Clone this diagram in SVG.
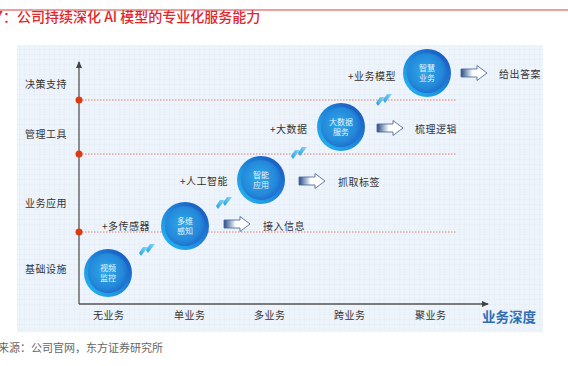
<svg xmlns="http://www.w3.org/2000/svg" width="568" height="366" viewBox="0 0 568 366">
<defs>
<style>
.lbl{font-family:"Noto Sans CJK SC","Noto Sans",sans-serif;font-size:10px;fill:#333;letter-spacing:0.5px;dominant-baseline:central}
.ctext{font-family:"Noto Sans CJK SC","Noto Sans",sans-serif;font-size:8px;fill:#fff;fill-opacity:0.9;text-anchor:middle;dominant-baseline:central}
.dash{stroke:#e0604e;stroke-width:0.8;stroke-dasharray:1.5 1.5;fill:none}
.dot{fill:#dc3b12}
.axis{stroke:#555;stroke-width:1.3;fill:none}
</style>
<pattern id="grid" width="5" height="5" patternUnits="userSpaceOnUse">
<rect width="5" height="5" fill="#eef4fb"/>
<path d="M5 0V5M0 5H5" stroke="#e1e9f4" stroke-width="0.6"/>
</pattern>
<linearGradient id="rim" x1="0" y1="1" x2="1" y2="0">
<stop offset="0" stop-color="#25bdf2"/>
<stop offset="0.5" stop-color="#1e86dc"/>
<stop offset="1" stop-color="#1a4fb8"/>
</linearGradient>
<radialGradient id="core" cx="0.45" cy="0.45" r="0.6">
<stop offset="0" stop-color="#2fa9ea"/>
<stop offset="0.7" stop-color="#2489da"/>
<stop offset="1" stop-color="#1d68c9"/>
</radialGradient>
<linearGradient id="arr" x1="0" y1="0" x2="1" y2="0">
<stop offset="0" stop-color="#2d4c7e"/>
<stop offset="0.15" stop-color="#6c88b2"/>
<stop offset="0.45" stop-color="#ffffff"/>
<stop offset="1" stop-color="#ffffff"/>
</linearGradient>
<linearGradient id="chev" x1="0" y1="1" x2="1" y2="0">
<stop offset="0" stop-color="#1c9ee2"/>
<stop offset="1" stop-color="#8ad9f8"/>
</linearGradient>
<path id="barrow" d="M0,-4H16V-7.5L26,0L16,7.5V4H0Z" fill="url(#arr)" stroke="#4d6e9e" stroke-width="0.9"/>
<g id="chevs">
<path d="M3,0H8L1,9L-1,6Z" fill="url(#chev)"/>
<path d="M10,-3H15L8,6L6,3Z" fill="url(#chev)"/>
</g>
<marker id="ah" markerWidth="8" markerHeight="8" refX="6" refY="4" orient="auto" markerUnits="userSpaceOnUse">
<path d="M0,1L7,4L0,7Z" fill="#444"/>
</marker>
</defs>
<rect width="568" height="366" fill="#fff"/>
<line x1="0" y1="10" x2="568" y2="10" stroke="#e03a3a" stroke-width="1"/>
<text x="-5" y="22" font-family="'Noto Sans CJK SC','Noto Sans',sans-serif" font-size="14" font-weight="500" fill="#e0262b">7：公司持续深化 AI 模型的专业化服务能力</text>
<rect x="17" y="45" width="526" height="287" fill="url(#grid)"/>

<g id="connectors">
<line class="axis" x1="79" y1="304" x2="79" y2="62" marker-end="url(#ah)"/>
<line class="axis" x1="79" y1="304" x2="488" y2="304" marker-end="url(#ah)"/>
<line class="dash" x1="79" y1="100" x2="457" y2="100"/>
<line class="dash" x1="79" y1="154" x2="457" y2="154"/>
<line class="dash" x1="79" y1="232" x2="457" y2="232"/>
<circle class="dot" cx="79" cy="100" r="3.5"/>
<circle class="dot" cx="79" cy="154" r="3.5"/>
<circle class="dot" cx="79" cy="232" r="3.5"/>
<use href="#chevs" transform="translate(140,247)"/>
<use href="#chevs" transform="translate(217,200)"/>
<use href="#chevs" transform="translate(292,150)"/>
<use href="#chevs" transform="translate(377,97)"/>
<use href="#barrow" transform="translate(224,224)"/>
<use href="#barrow" transform="translate(299,181)"/>
<use href="#barrow" transform="translate(377,128)"/>
<use href="#barrow" transform="translate(461,73)"/>
</g>

<g id="y-labels">
<text class="lbl" x="25" y="83">决策支持</text>
<text class="lbl" x="25" y="133">管理工具</text>
<text class="lbl" x="25" y="202">业务应用</text>
<text class="lbl" x="25" y="268">基础设施</text>
</g>
<g id="x-labels">
<text class="lbl" x="93" y="314">无业务</text>
<text class="lbl" x="174" y="314">单业务</text>
<text class="lbl" x="254" y="314">多业务</text>
<text class="lbl" x="334" y="314">跨业务</text>
<text class="lbl" x="415" y="314">聚业务</text>
<text x="482" y="322" font-family="'Noto Sans CJK SC','Noto Sans',sans-serif" font-size="13.5" font-weight="bold" fill="#2f6eb5">业务深度</text>
</g>

<g id="node-shipin">
<circle cx="108" cy="273" r="24" fill="url(#rim)"/>
<circle cx="108" cy="273" r="20" fill="url(#core)"/>
<text class="ctext" x="108" y="267">视频</text>
<text class="ctext" x="108" y="277">监控</text>
</g>
<g id="node-duowei">
<circle cx="185" cy="226" r="24" fill="url(#rim)"/>
<circle cx="185" cy="226" r="20" fill="url(#core)"/>
<text class="ctext" x="185" y="220">多维</text>
<text class="ctext" x="185" y="230">感知</text>
<text class="lbl" x="102" y="225">+多传感器</text>
<text class="lbl" x="263" y="225">接入信息</text>
</g>
<g id="node-zhineng">
<circle cx="261" cy="180" r="24" fill="url(#rim)"/>
<circle cx="261" cy="180" r="20" fill="url(#core)"/>
<text class="ctext" x="261" y="174">智能</text>
<text class="ctext" x="261" y="184">应用</text>
<text class="lbl" x="180" y="180">+人工智能</text>
<text class="lbl" x="338" y="181">抓取标签</text>
</g>
<g id="node-dashuju">
<circle cx="341" cy="127" r="24" fill="url(#rim)"/>
<circle cx="341" cy="127" r="20" fill="url(#core)"/>
<text class="ctext" x="341" y="121">大数据</text>
<text class="ctext" x="341" y="131">服务</text>
<text class="lbl" x="270" y="128">+大数据</text>
<text class="lbl" x="415" y="128">梳理逻辑</text>
</g>
<g id="node-zhihui">
<circle cx="427" cy="73" r="24" fill="url(#rim)"/>
<circle cx="427" cy="73" r="20" fill="url(#core)"/>
<text class="ctext" x="427" y="67">智慧</text>
<text class="ctext" x="427" y="77">业务</text>
<text class="lbl" x="348" y="75">+业务模型</text>
<text class="lbl" x="499" y="73">给出答案</text>
</g>

<text x="-2" y="352" font-family="'Noto Sans CJK SC','Noto Sans',sans-serif" font-size="11" fill="#666">来源：公司官网，东方证券研究所</text>
</svg>
